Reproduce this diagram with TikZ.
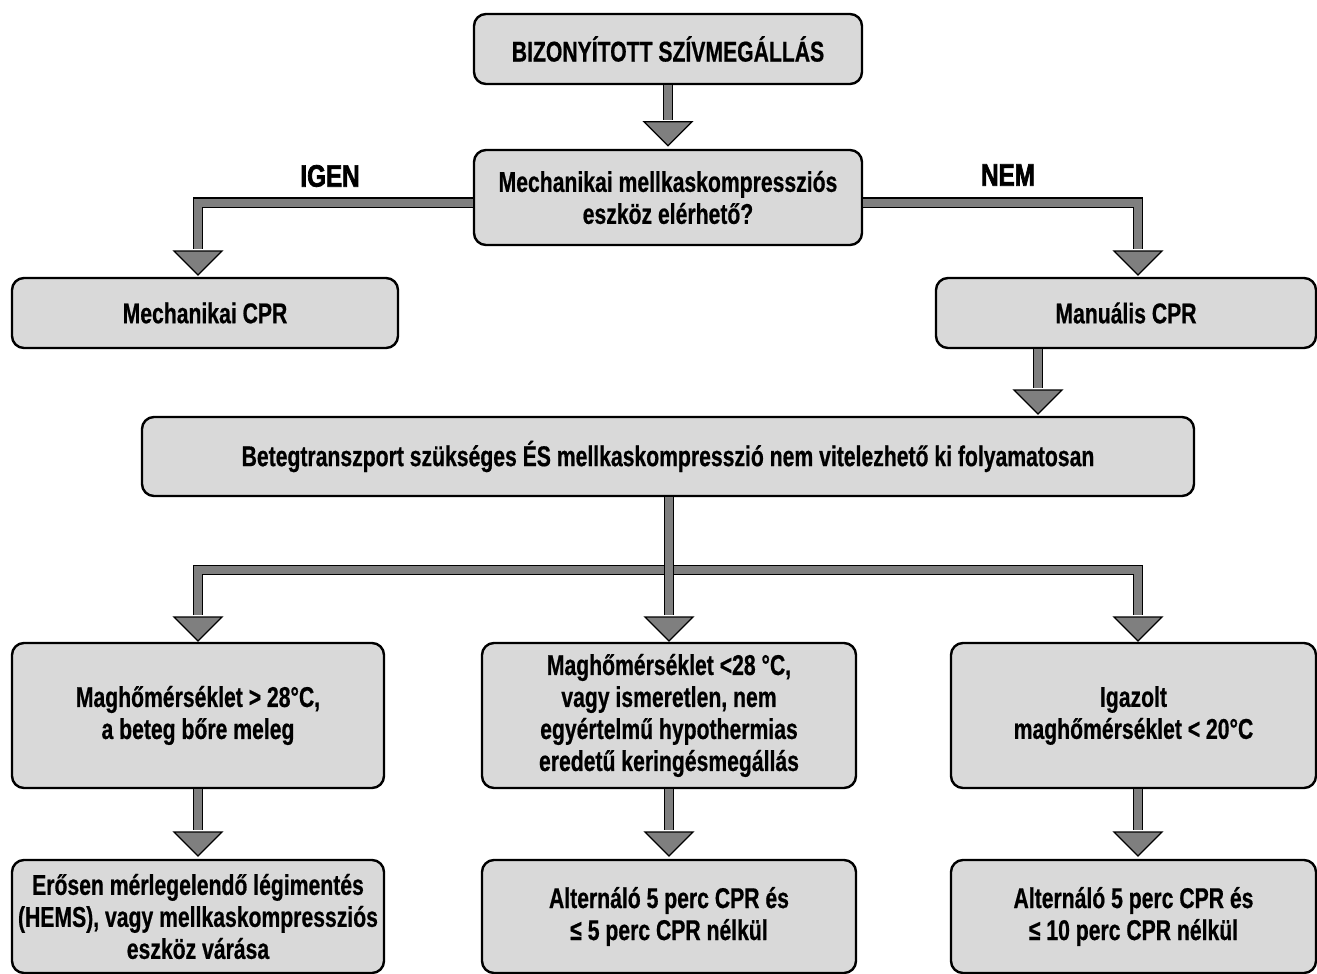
\documentclass[tikz,border=0pt]{standalone}
\usepackage{fontspec}
\setmainfont{Liberation Sans}[FakeStretch=0.74,FakeBold=0.6]
\newfontfamily\heavyfont{Liberation Sans}[FakeStretch=0.78,FakeBold=2.2]
\usetikzlibrary{calc}
\definecolor{boxfill}{HTML}{D9D9D9}
\definecolor{arrowgray}{HTML}{7F7F7F}
\newcommand\boxfont{\fontsize{14.3}{16}\selectfont\bfseries}
\newcommand\arrowhead[1]{\path[headst] (#1) -- ++(-24,-24) -- ++(48,0) -- cycle;}
\tikzset{
  box/.style={draw=black, line width=1.2pt, fill=boxfill, rounded corners=6pt,
    align=center, font=\boxfont, inner sep=0pt},
  shaft/.style={draw=black, line width=0.65pt, double=arrowgray, double distance=4pt, line join=miter},
  headst/.style={fill=arrowgray, draw=black, line width=0.65pt, line join=miter},
  lbl/.style={font=\heavyfont\fontsize{15.5}{16}\selectfont\bfseries, inner sep=0pt}
}
\begin{document}
\begin{tikzpicture}[x=0.5pt,y=-0.5pt]
\useasboundingbox (0,0) rectangle (1317,974);
% boxes
\node[box, minimum width=194pt, minimum height=35pt] (top) at (668,49) {BIZONYÍTOTT SZÍVMEGÁLLÁS};
\node[box, minimum width=194pt, minimum height=47.5pt] (q) at (668,197.5) {Mechanikai mellkaskompressziós\\eszköz elérhető?};
\node[box, minimum width=193pt, minimum height=35pt] (mech) at (205,313) {Mechanikai CPR};
\node[box, minimum width=190pt, minimum height=35pt] (man) at (1126,313) {Manuális CPR};
\node[box, minimum width=526pt, minimum height=39.5pt] (beteg) at (668,456.5) {Betegtranszport szükséges ÉS mellkaskompresszió nem vitelezhető ki folyamatosan};
\node[box, minimum width=186pt, minimum height=72.5pt] (l1) at (198,715.5) {Maghőmérséklet > 28°C,\\a beteg bőre meleg};
\node[box, minimum width=187pt, minimum height=72.5pt] (m1) at (669,715.5) {Maghőmérséklet <28 °C,\\vagy ismeretlen, nem\\egyértelmű hypothermias\\eredetű keringésmegállás};
\node[box, minimum width=182.5pt, minimum height=72.5pt] (r1) at (1133.5,715.5) {Igazolt\\maghőmérséklet < 20°C};
\node[box, minimum width=186pt, minimum height=56.5pt] (l2) at (198,916.5) {Erősen mérlegelendő légimentés\\(HEMS), vagy mellkaskompressziós\\eszköz várása};
\node[box, minimum width=187pt, minimum height=56.5pt] (m2) at (669,916.5) {Alternáló 5 perc CPR és\\≤ 5 perc CPR nélkül};
\node[box, minimum width=182.5pt, minimum height=56.5pt] (r2) at (1133.5,916.5) {Alternáló 5 perc CPR és\\≤ 10 perc CPR nélkül};
% labels
\node[lbl] (igen) at (330,176) {IGEN};
\node[lbl] (nem) at (1008,175) {NEM};
% arrow tips
\coordinate (qt) at ($(q.north)+(0,-3)$);
\coordinate (mt) at (198,275);
\coordinate (nt) at (1138,275);
\coordinate (bt) at (1038,414);
\coordinate (t1) at (198,641);
\coordinate (t2) at (669,641);
\coordinate (t3) at (1138,641);
\coordinate (hy) at (0,570);
\coordinate (u1) at (198,856);
\coordinate (u2) at (669,856);
\coordinate (u3) at (1138,856);
\coordinate (qw) at ($(q.west)+(0,5)$);
\coordinate (qe) at ($(q.east)+(0,5)$);
% shafts
\draw[shaft] (top.south) -- ($(qt)+(0,-26)$);
\draw[shaft] (qw) -- (qw -| mt) -- ($(mt)+(0,-26)$);
\draw[shaft] (qe) -- (qe -| nt) -- ($(nt)+(0,-26)$);
\draw[shaft] (man.south -| bt) -- ($(bt)+(0,-26)$);
\draw[shaft] ($(t1)+(0,-26)$) -- (t1 |- hy) -- (t3 |- hy) -- ($(t3)+(0,-26)$);
\draw[shaft] (beteg.south -| t2) -- ($(t2)+(0,-26)$);
\draw[shaft] (l1.south -| u1) -- ($(u1)+(0,-26)$);
\draw[shaft] (m1.south -| u2) -- ($(u2)+(0,-26)$);
\draw[shaft] (r1.south -| u3) -- ($(u3)+(0,-26)$);
% heads
\arrowhead{qt}
\arrowhead{mt}
\arrowhead{nt}
\arrowhead{bt}
\arrowhead{t1}
\arrowhead{t2}
\arrowhead{t3}
\arrowhead{u1}
\arrowhead{u2}
\arrowhead{u3}
\end{tikzpicture}
\end{document}
